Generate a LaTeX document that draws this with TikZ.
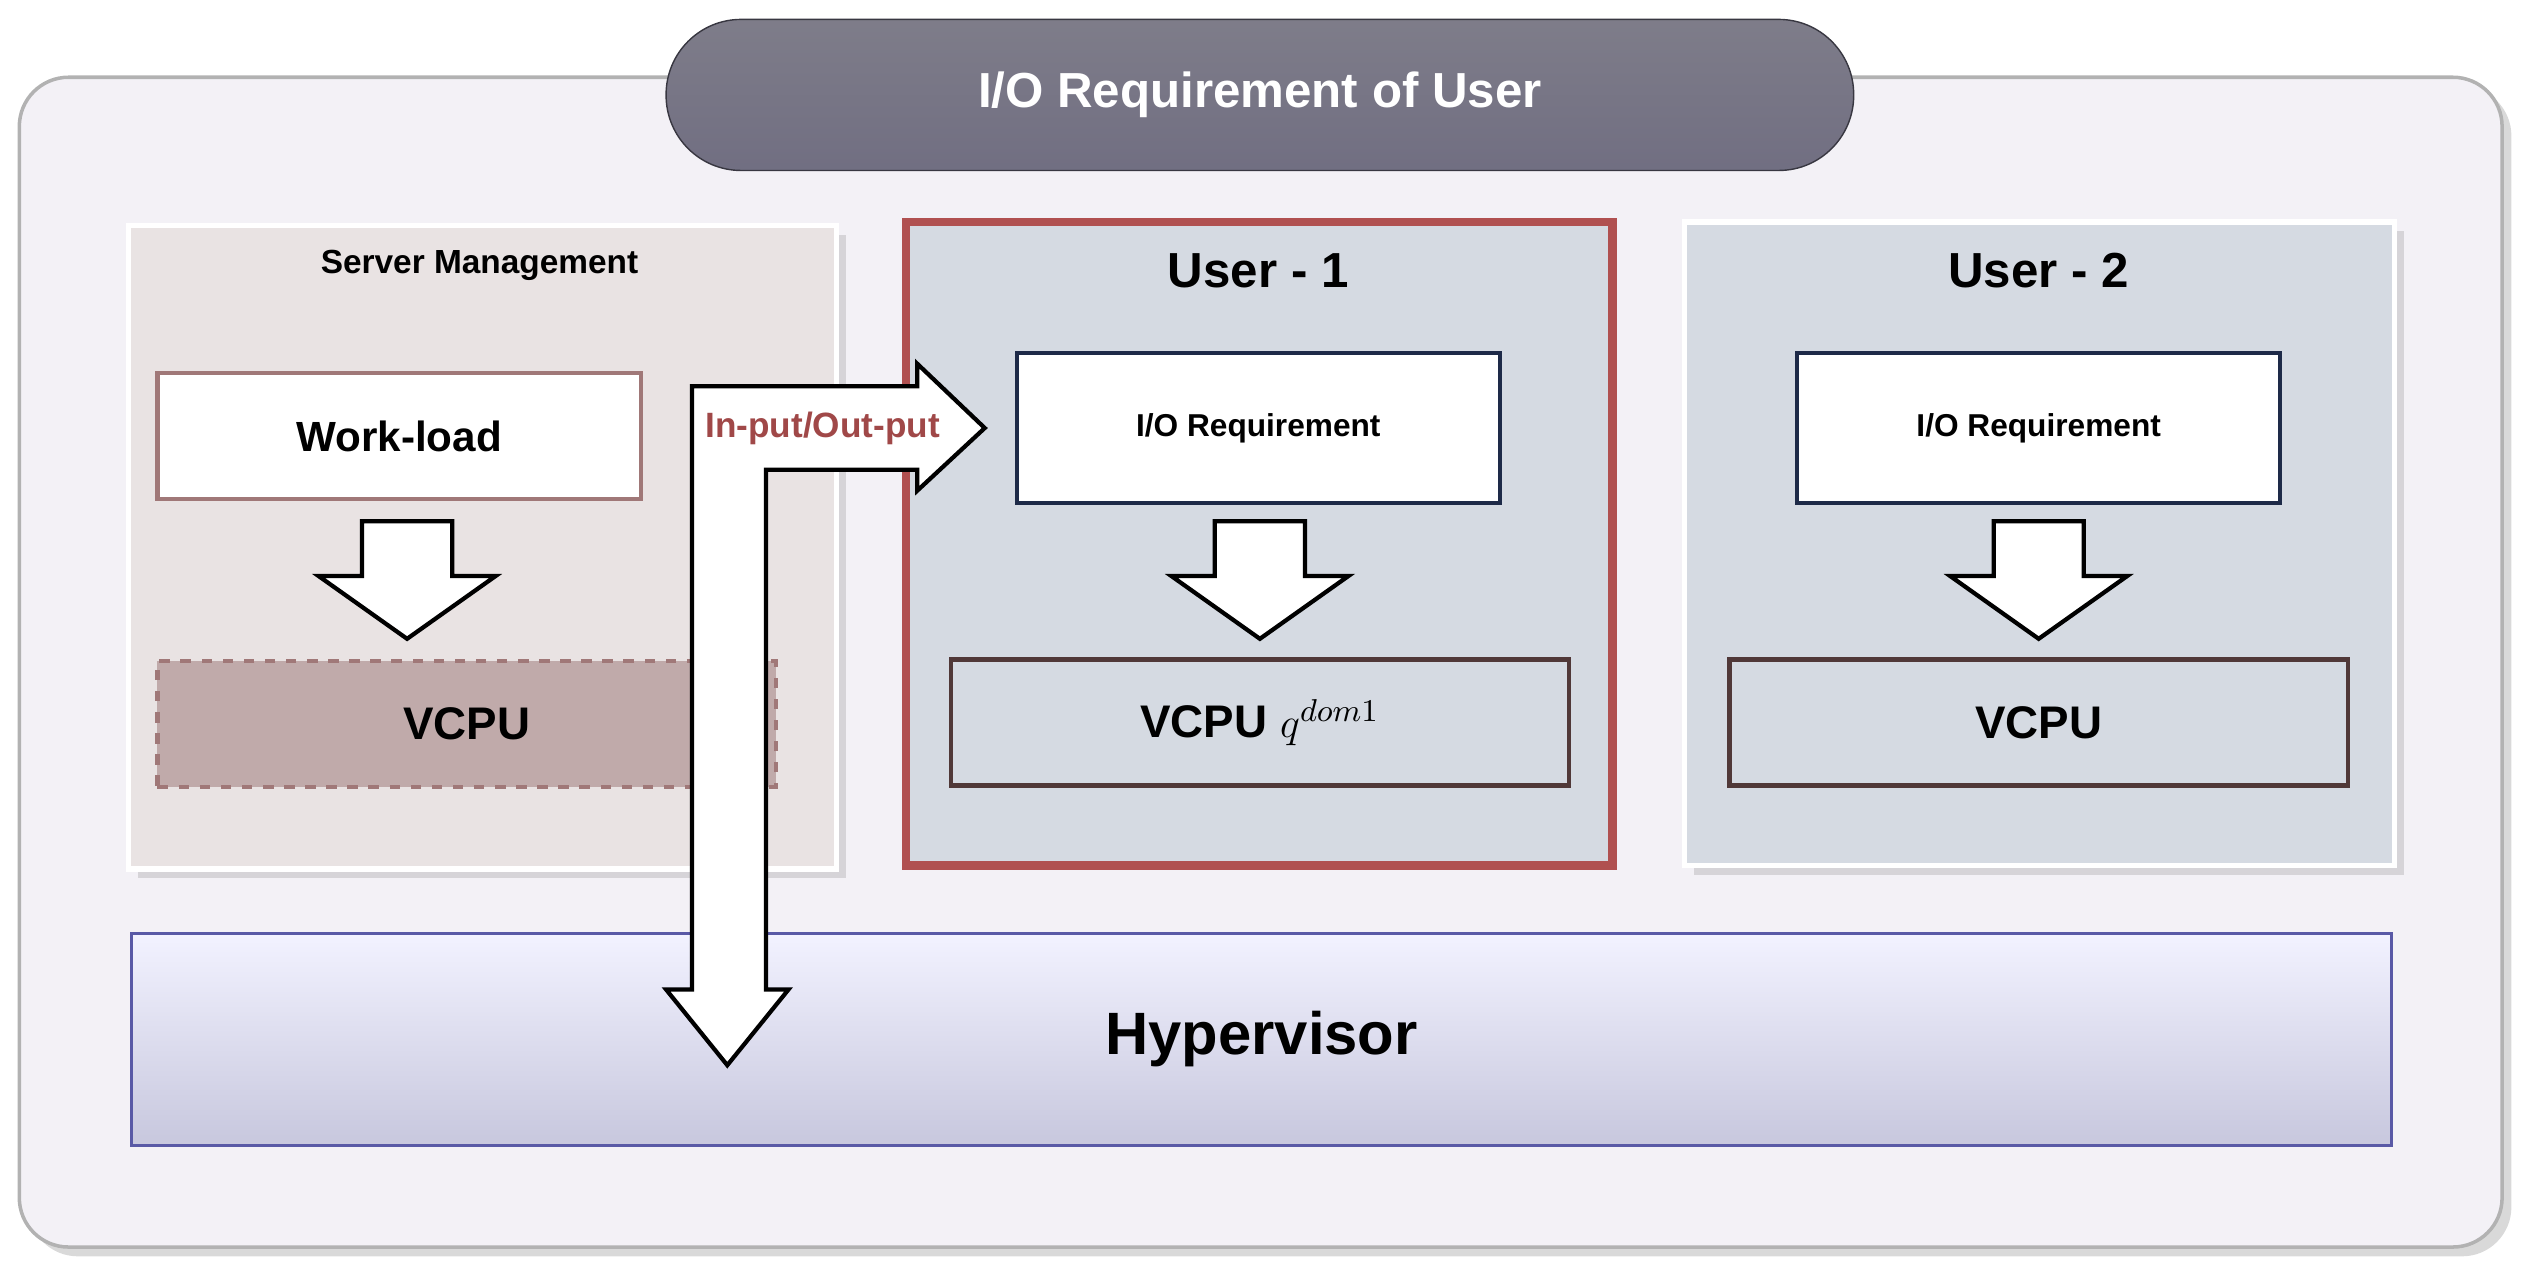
\documentclass[tikz,border=0pt]{standalone}
\usepackage{fontspec}
\setmainfont{Liberation Sans}
\usetikzlibrary{shadows}
\definecolor{bgfill}{HTML}{F3F1F6}
\definecolor{pill}{HTML}{5E5C6C}
\definecolor{smfill}{HTML}{E9E3E3}
\definecolor{ufill}{HTML}{D5DAE2}
\definecolor{redb}{HTML}{B05050}
\definecolor{brownb}{HTML}{A07878}
\definecolor{vfill}{HTML}{C0AAAA}
\definecolor{navy}{HTML}{1E2A48}
\definecolor{darkb}{HTML}{503838}
\definecolor{txtred}{HTML}{A04848}
\tikzset{
  panel/.style={draw=white, line width=1.5pt},
  box/.style={draw, line width=1.2pt, minimum width=4.83cm, minimum height=1.26cm, font=\bfseries},
  blockarrow/.style={draw=black, fill=white, line width=1.2pt, line join=miter},
}
\begin{document}
\begin{tikzpicture}[x=0.01609cm, y=-0.01609cm]
\useasboundingbox (0,0) rectangle (1568,788);
% outer frame
\draw[rounded corners=14, fill=bgfill, draw=gray!60, line width=1pt, drop shadow={opacity=0.3}] (12,48) rectangle (1555,775);
% title
\node[rounded corners=0.75cm, top color=pill!80, bottom color=pill!120!black, draw=pill!60!black, text=white,
  minimum width=11.87cm, minimum height=1.51cm, font=\bfseries\fontsize{14}{16}\selectfont] (title) at (783,59) {I/O Requirement of User};
% server management
\draw[panel, fill=smfill, drop shadow={opacity=0.25}] (80,140) rectangle (520,540);
\node[font=\bfseries\fontsize{9.5}{11}\selectfont] (smt) at (298,165) {Server Management};
\node[box, fill=white, draw=brownb] (work) at (248,271) {\fontsize{12}{14}\selectfont Work-load};
\node[box, fill=vfill, draw=brownb, dashed, minimum width=6.18cm] (v0) at (290,450) {\fontsize{13}{15}\selectfont VCPU};
% user 1
\draw[draw=redb, line width=2.5pt, fill=ufill] (563,138) rectangle (1002,538);
\node[font=\bfseries\fontsize{14}{16}\selectfont] (u1) at (782,168) {User - 1};
\node[box, fill=white, draw=navy, minimum height=1.5cm] (io1) at (782,266) {\fontsize{9}{11}\selectfont I/O Requirement};
\node[box, fill=ufill, draw=darkb, minimum width=6.18cm] (v1) at (783,449) {\fontsize{13}{15}\selectfont VCPU $q^{dom1}$};
% user 2
\draw[panel, fill=ufill, drop shadow={opacity=0.25}] (1047,138) rectangle (1488,538);
\node[font=\bfseries\fontsize{14}{16}\selectfont] (u2) at (1267,168) {User - 2};
\node[box, fill=white, draw=navy, minimum height=1.5cm] (io2) at (1267,266) {\fontsize{9}{11}\selectfont I/O Requirement};
\node[box, fill=ufill, draw=darkb, minimum width=6.18cm] (v2) at (1267,449) {\fontsize{13}{15}\selectfont VCPU};
% down arrows
\foreach \cx in {253,783,1267}{
  \draw[blockarrow] (\cx-28,324) -- (\cx+28,324) -- (\cx+28,358) -- (\cx+55,358) -- (\cx,397)
    -- (\cx-55,358) -- (\cx-28,358) -- cycle;
}
% hypervisor
\node[draw=gray!70!blue, line width=1pt, top color=blue!5!white, bottom color=blue!25!gray!35!white,
  minimum width=22.59cm, minimum height=2.12cm, font=\bfseries\fontsize{17}{20}\selectfont] (hyp) at (784,646) {Hypervisor};
% in-put / out-put arrow
\draw[blockarrow] (476,615) -- (490,615) -- (452,662) -- (414,615) -- (430,615) -- (430,240)
  -- (570,240) -- (570,226) -- (612,266) -- (570,305) -- (570,292) -- (476,292) -- cycle;
\node[text=txtred, font=\bfseries\fontsize{10}{12}\selectfont, anchor=west, inner sep=0] (io) at (438,266) {In-put/Out-put};
\end{tikzpicture}
\end{document}
